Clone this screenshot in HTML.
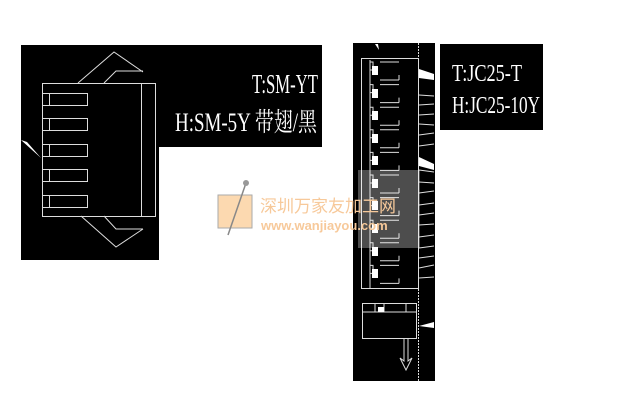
<!DOCTYPE html>
<html><head><meta charset="utf-8"><style>
html,body{margin:0;padding:0;background:#fff;width:617px;height:418px;overflow:hidden}
svg{display:block}
text{font-family:"Liberation Serif","Noto Serif CJK SC",serif;fill:#fff}
</style></head><body>
<svg width="617" height="418" viewBox="0 0 617 418" xmlns="http://www.w3.org/2000/svg">
<rect x="21" y="45" width="138" height="215" fill="#000"/>
<rect x="158" y="45" width="164" height="102" fill="#000"/>
<g stroke="#ddd" stroke-width="1" fill="none">
<rect x="42.5" y="83.5" width="113" height="133"/>
<line x1="141.5" y1="84" x2="141.5" y2="216"/>
<path d="M78 83 L114 52 L143 72 M104 83 L116 71 L143 71"/>
<path d="M81 216 L116 247 L143 229 M104 216 L116 229 L143 229"/>
<g>
<rect x="42.5" y="93.5" width="45" height="12"/><line x1="49.5" y1="93" x2="49.5" y2="106"/>
<rect x="42.5" y="118.5" width="45" height="12"/><line x1="49.5" y1="118" x2="49.5" y2="131"/>
<rect x="42.5" y="144.5" width="45" height="12"/><line x1="49.5" y1="144" x2="49.5" y2="157"/>
<rect x="42.5" y="169.5" width="45" height="12"/><line x1="49.5" y1="169" x2="49.5" y2="182"/>
<rect x="42.5" y="195.5" width="45" height="12"/><line x1="49.5" y1="195" x2="49.5" y2="208"/>
</g>
</g>
<polygon points="21,140 27,142 41,158" fill="#fff"/>
<g transform="translate(0,93) scale(1,1.3)"><text x="318" y="0" font-size="21" text-anchor="end" textLength="66" lengthAdjust="spacingAndGlyphs">T:SM-YT</text></g>
<g transform="translate(0,131) scale(1,1.3)"><text x="317" y="0" font-size="20" text-anchor="end" textLength="142" lengthAdjust="spacingAndGlyphs">H:SM-5Y 带翅/黑</text></g>
<rect x="353" y="43" width="82" height="338" fill="#000"/>
<rect x="440" y="44" width="103" height="86" fill="#000"/>
<line x1="418.5" y1="43" x2="418.5" y2="381" stroke="#ddd" stroke-width="1" stroke-dasharray="2,1"/>
<g stroke="#ddd" stroke-width="1" fill="none">
<rect x="361.5" y="58.5" width="57" height="230"/>
<path d="M370 60 V288"/>
<g id="p">
<path d="M370 62 h3 v8 h-3 M380 62 h19 M380 80 h19 M399 75 v5"/>
</g>
<use href="#p" y="22.6"/><use href="#p" y="45.2"/><use href="#p" y="67.8"/><use href="#p" y="90.4"/>
<use href="#p" y="113"/><use href="#p" y="135.6"/><use href="#p" y="158.2"/><use href="#p" y="180.8"/><use href="#p" y="203.4"/>
<rect x="362.5" y="303.5" width="54" height="35"/>
<path d="M362 312 h54 M375 303 v9 M384 303 v9 M406 303 v9"/>
<path d="M404 339 v22 l-4 -3 l6 12 l6 -12 l-4 3 v-22"/>
<path d="M419 95 L434 96 M419 105 L434 104 M419 115 L434 114 M419 124 L434 125 M419 135 L434 133 M419 146 L434 144 M419 170 L434 172 M419 182 L434 183 M419 193 L434 191 M419 205 L434 203 M419 215 L434 213 M419 225 L434 224 M419 237 L434 235 M419 248 L434 246 M419 258 L434 256 M419 268 L434 265 M419 278 L434 277"/>
</g>
<g fill="#fff">
<rect x="372" y="66" width="6" height="9"/><rect x="372" y="89" width="6" height="9"/><rect x="372" y="111" width="6" height="9"/>
<rect x="372" y="134" width="6" height="9"/><rect x="372" y="156" width="6" height="9"/><rect x="372" y="179" width="6" height="9"/>
<rect x="372" y="201" width="6" height="9"/><rect x="372" y="224" width="6" height="9"/><rect x="372" y="247" width="6" height="9"/>
<rect x="372" y="269" width="6" height="9"/><rect x="378" y="307" width="6" height="5"/>
<polygon points="419,69 434,74 434,80 419,78"/>
<polygon points="419,157 434,164 434,170 419,166"/>
<polygon points="419,326 434,322 434,328"/>
<polygon points="375,44 378,44 379,50"/>
</g>
<g transform="translate(0,81) scale(1,1.3)"><text x="452" y="0" font-size="19" textLength="70" lengthAdjust="spacingAndGlyphs">T:JC25-T</text></g>
<g transform="translate(0,113) scale(1,1.3)"><text x="452" y="0" font-size="19" textLength="88" lengthAdjust="spacingAndGlyphs">H:JC25-10Y</text></g>
<rect x="358" y="170" width="62" height="78" fill="#fff" opacity="0.3"/>
<rect x="218" y="195" width="34" height="33" fill="#fcd9b0" stroke="#aaa" stroke-width="1"/>
<line x1="246" y1="183" x2="228" y2="235" stroke="#888" stroke-width="1.5"/>
<circle cx="246" cy="183" r="3" fill="#999"/>
<text x="260" y="212" font-size="17" style="fill:#f7c99a;font-family:'Liberation Sans','Noto Sans CJK SC',sans-serif">深圳万家友加工网</text>
<text x="261" y="230" font-size="13" font-weight="bold" style="fill:#f7c99a;font-family:'Liberation Sans',sans-serif">www.wanjiayou.com</text>
</svg>
</body></html>
